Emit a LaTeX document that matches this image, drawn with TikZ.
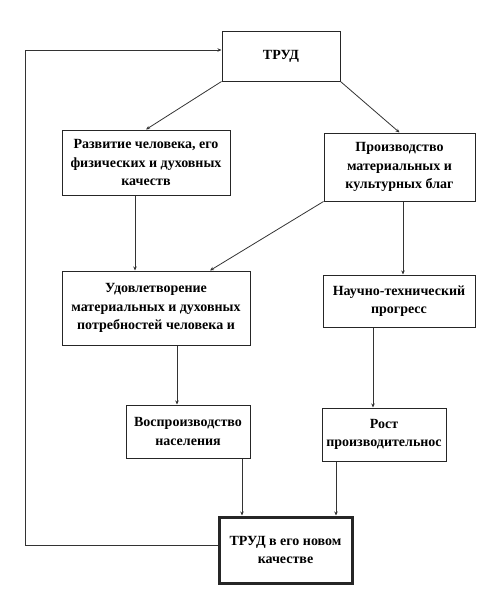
\documentclass[tikz,border=0pt]{standalone}
\usepackage{fontspec}
\setmainfont{Liberation Serif}
\usetikzlibrary{arrows.meta}
\begin{document}
\begin{tikzpicture}[x=1pt,y=-1pt,
  box/.style={draw=black!85, line width=1pt, align=center, inner sep=0pt,
    font=\bfseries\fontsize{14}{18.5}\selectfont},
  arr/.style={draw=black!80, line width=0.8pt, -{Stealth[length=4pt,width=3.5pt]}}]
\useasboundingbox (0,0) rectangle (501,605);
\node[box, minimum width=118pt, minimum height=50pt] (trud) at (281,56) {ТРУД};
\node[box, minimum width=168pt, minimum height=65pt] (razv) at (146,162.5)
  {Развитие человека, его\\физических и духовных\\качеств};
\node[box, minimum width=151pt, minimum height=68pt] (proizv) at (399.5,167)
  {Производство\\материальных и\\культурных благ};
\node[box, minimum width=188pt, minimum height=74pt] (udov) at (156,308)
  {Удовлетворение\\материальных и духовных\\потребностей человека и};
\node[box, minimum width=152pt, minimum height=52pt] (nauch) at (399,301)
  {Научно-технический\\прогресс};
\node[box, minimum width=124pt, minimum height=53pt] (vospr) at (188,431.5)
  {Воспроизводство\\населения};
\node[box, minimum width=124pt, minimum height=53pt] (rost) at (384,434.5)
  {Рост\\производительнос};
\node[box, line width=3pt, minimum width=133pt, minimum height=66pt] (novyi) at (285.5,550)
  {ТРУД в его новом\\качестве};
% helper coordinates
\coordinate (a1) at ([xshift=-11pt]razv.south);
\coordinate (a2) at ([xshift=54pt]udov.north);
\coordinate (a3) at ([xshift=3.5pt]proizv.south);
\coordinate (a4) at ([xshift=21pt]udov.south);
\coordinate (a5) at ([xshift=-26pt]nauch.south);
\coordinate (a6) at ([xshift=54pt]vospr.south);
\coordinate (a7) at ([xshift=-48pt]rost.south);
\coordinate (fbl) at (25,0);
\coordinate (n1) at ([yshift=5pt]novyi.west);
\coordinate (t1) at ([yshift=6pt]trud.west);
% connectors
\draw[arr] (trud.south west) -- (razv.north);
\draw[arr] (trud.south east) -- (proizv.north);
\draw[arr] (a1) -- (a1 |- udov.north);
\draw[arr] (proizv.south west) -- (a2);
\draw[arr] (a3) -- (a3 |- nauch.north);
\draw[arr] (a4) -- (a4 |- vospr.north);
\draw[arr] (a5) -- (a5 |- rost.north);
\draw[arr] (a6) -- (a6 |- novyi.north);
\draw[arr] (a7) -- (a7 |- novyi.north);
\draw[arr] (n1) -- (n1 -| fbl) -- (t1 -| fbl) -- (t1);
\end{tikzpicture}
\end{document}
